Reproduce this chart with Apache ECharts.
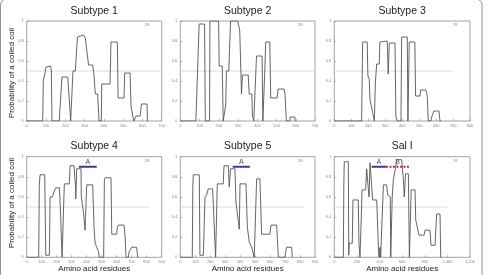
<!DOCTYPE html>
<html>
<head>
<meta charset="utf-8">
<script src="https://cdn.jsdelivr.net/npm/echarts@6/dist/echarts.min.js"></script>
<style>
  html, body { margin: 0; padding: 0; background: #fff; }
  #chart { width: 487px; height: 275px; }
</style>
</head>
<body>
<div id="chart"></div>
<script>
// panel titles and x ranges
const titles = ['Subtype 1', 'Subtype 2', 'Subtype 3', 'Subtype 4', 'Subtype 5', 'Sal I']
const xMax = [700, 700, 800, 900, 900, 1200]
const xStep = [100, 100, 100, 100, 100, 200]
const cutoff = 0.5
const cutoffEnd = [700, 700, 700, 820, 825, 1000]

// coiled coil probability profiles, [residue, probability]
const subtype1 = [[0,0],[83,0],[86,0.40],[93,0.46],[100,0.54],[104,0.55],[124,0.55],[128,0.5],[131,0],
  [169,0],[172,0.11],[178,0.11],[183,0.44],[213,0.44],[220,0.42],[228,0],
  [238,0],[240,0.5],[252,0.5],[263,0.84],[270,0.86],[294,0.86],[304,0.83],[315,0.65],[321,0.56],[342,0.56],[349,0.46],[356,0.27],[368,0.27],[375,0],
  [387,0],[389,0.37],[432,0.37],[437,0.79],[470,0.79],[474,0.23],[505,0.23],[508,0.48],[536,0.48],[541,0.15],[550,0.05],[556,0],
  [565,0],[567,0.05],[588,0.05],[595,0.17],[624,0.17],[626,0],[630,0]]
const subtype2 = [[0,0],[81,0],[90,0.52],[98,0.97],[126,0.97],[130,0],
  [152,0],[154,1.0],[199,1.0],[202,0.55],[218,0.55],[223,0],
  [232,0],[236,0.16],[240,0.5],[252,0.5],[261,1.0],[299,1.0],[309,0.9],[318,0.27],[323,0.46],[353,0.46],[358,0.27],[372,0.27],[375,0.05],[382,0],
  [392,0],[396,0.65],[425,0.65],[429,0],
  [434,0],[439,0.5],[444,0.79],[465,0.79],[470,0.23],[503,0.23],[508,0.32],[539,0.32],[544,0.28],[551,0],
  [569,0],[571,0.04],[595,0.04],[597,0],[600,0]]
const subtype3 = [[0,0],[161,0],[167,0.79],[194,0.79],[198,0.45],[206,0.42],[210,0.22],[220,0.2],[236,0],
  [240,0],[242,0.38],[250,0.57],[265,0.57],[269,0.79],[273,0.8],[312,0.8],[318,0.47],[324,0.78],[358,0.78],[363,0.05],[371,0],
  [393,0],[397,0.84],[430,0.84],[434,0],[438,0],[442,0.79],[475,0.79],[479,0.25],[505,0.25],[509,0.31],[540,0.31],[548,0.25],[554,0],
  [570,0],[572,0.03],[583,0.03],[587,0.1],[617,0.1],[623,0],[630,0]]
const subtype4 = [[0,0],[80,0],[84,0.72],[89,0.82],[120,0.82],[127,0.02],[151,0.02],[156,0.6],[171,0.6],[180,0.64],[189,0.64],[193,0.69],[218,0.69],[224,0.5],[236,0],
  [244,0],[248,0.6],[251,0.73],[284,0.73],[289,0.91],[316,0.91],[320,0.8],[325,0.72],[327,0.58],[330,0.7],[333,0.88],[362,0.88],[364,0.6],[378,0.45],[389,0.27],[396,0.27],[400,0.72],[440,0.72],[449,0.3],[456,0.14],[467,0.1],[478,0.06],[484,0],
  [513,0],[518,0.77],[522,0.79],[562,0.79],[567,0.23],[600,0.23],[604,0.3],[611,0.32],[649,0.32],[656,0.2],[662,0],
  [678,0],[682,0.05],[695,0.05],[700,0.1],[733,0.1],[740,0],[745,0]]
const subtype5 = [[0,0],[80,0],[84,0.72],[87,0.82],[127,0.82],[131,0.02],[154,0.02],[165,0.6],[176,0.62],[187,0.68],[216,0.68],[227,0.3],[236,0],
  [240,0],[247,0.73],[287,0.73],[292,0.91],[321,0.91],[327,0.7],[336,0.88],[365,0.88],[372,0.55],[388,0.35],[394,0.28],[399,0.73],[439,0.73],[448,0.3],[461,0.15],[477,0.1],[494,0],
  [506,0],[510,0.78],[532,0.78],[543,0.23],[599,0.23],[606,0.32],[644,0.32],[655,0],
  [699,0],[702,0.03],[710,0.1],[744,0.1],[748,0],[750,0]]
const salI = [[0,0],[80,0],[84,0.7],[88,0.95],[124,0.95],[128,0.02],[132,0.14],[159,0.14],[165,0.57],[212,0.57],[218,0.14],[227,0],
  [236,0],[240,0.45],[245,0.67],[277,0.67],[286,0.88],[300,0.88],[307,0.6],[316,0.94],[330,0.94],[339,0.57],[375,0.57],[390,0.1],[395,0],[400,0],[404,0.1],[410,0],
  [425,0],[430,0.6],[434,0.72],[463,0.72],[472,0.62],[495,0.6],[499,0],[507,0],[512,0.6],[522,0.77],[537,0.77],[543,0.9],[552,0.97],[596,0.97],[611,0.77],[619,0.6],[625,0.6],[630,0.83],[655,0.83],[664,0],
  [676,0],[680,0.67],[714,0.67],[720,0.37],[735,0.37],[749,0.22],[794,0.22],[802,0.27],[846,0.27],[855,0.12],[891,0.12],[905,0.43],[935,0.43],[941,0],[950,0]]
const profiles = [subtype1, subtype2, subtype3, subtype4, subtype5, salI]

// helix regions A (blue) and B (red dotted), [start, end] residues
const regionA4 = [347, 467]
const regionA5 = [350, 465]
const regionA6 = [330, 457]
const regionB6 = [457, 664]
const regionY = 0.9

const lefts = [26.7, 180.3, 334.3]
const widths = [135, 134.7, 135.7]
const tops = [21, 156.7]
const heights = [100, 100.6]

const chart = echarts.init(document.getElementById('chart'))

const grid = []
const xAxis = []
const yAxis = []
const series = []
const graphic = []

profiles.forEach((prof, i) => {
  const col = i % 3
  const row = Math.floor(i / 3)
  grid.push({
    left: lefts[col], top: tops[row], width: widths[col], height: heights[row],
    show: true, borderColor: '#8a8a8a', borderWidth: 0.8, backgroundColor: 'transparent'
  })
  xAxis.push({
    type: 'value', gridIndex: i, min: 0, max: xMax[i], interval: xStep[i],
    axisLine: { show: false },
    axisTick: { show: true, inside: true, length: 2, lineStyle: { color: '#888', width: 0.6 } },
    axisLabel: { fontSize: 4, color: '#888', margin: 3, fontFamily: 'Liberation Sans' },
    splitLine: { show: false }
  })
  yAxis.push({
    type: 'value', gridIndex: i, min: 0, max: 1, interval: 0.2,
    axisLine: { show: false },
    axisTick: { show: true, inside: true, length: 2, lineStyle: { color: '#888', width: 0.6 } },
    axisLabel: {
      fontSize: 4, color: '#888', margin: 3, fontFamily: 'Liberation Sans',
      formatter: v => (v === 0 || v === 1) ? String(v) : v.toFixed(1)
    },
    splitLine: { show: false }
  })
  // 0.5 cutoff line
  series.push({
    type: 'line', xAxisIndex: i, yAxisIndex: i, silent: true, symbol: 'none', animation: false,
    data: [[0, cutoff], [cutoffEnd[i], cutoff]],
    lineStyle: { color: '#d6d6d6', width: 0.8 }
  })
  series.push({
    type: 'line', xAxisIndex: i, yAxisIndex: i, symbol: 'none', animation: false,
    data: prof,
    lineStyle: { color: '#555', width: 0.9 }
  })
  graphic.push({
    type: 'text', x: lefts[col] + widths[col] / 2, y: row === 0 ? 11 : 146.5,
    style: { text: titles[i], fontSize: 10.5, fontFamily: 'Liberation Sans', fill: '#222', align: 'center', verticalAlign: 'middle' }
  })
  graphic.push({
    type: 'text', x: lefts[col] + widths[col] - 17, y: tops[row] + 2,
    style: { text: '28', fontSize: 4, fontFamily: 'Liberation Sans', fill: '#888', align: 'left', verticalAlign: 'top' }
  })
})

function addRegion (idx, range, color, dotted, name) {
  series.push({
    type: 'line', xAxisIndex: idx, yAxisIndex: idx, symbol: 'none', animation: false,
    data: [[range[0], regionY], [range[1], regionY]],
    lineStyle: { color: color, width: 1.8, type: dotted ? [2, 1.5] : 'solid' },
    z: 5
  })
  series.push({
    type: 'scatter', xAxisIndex: idx, yAxisIndex: idx, symbolSize: 0, animation: false,
    data: [[(range[0] + range[1]) / 2, regionY]],
    label: { show: true, position: 'top', distance: 1, formatter: name, fontSize: 7, color: '#222', fontFamily: 'Liberation Sans' }
  })
}
addRegion(3, regionA4, '#3a3a9c', false, 'A')
addRegion(4, regionA5, '#3a3a9c', false, 'A')
addRegion(5, regionA6, '#3a3a9c', false, 'A')
addRegion(5, regionB6, '#e0262a', true, 'B')

// axis titles
const yNameCenter = [73, 203]
for (let row = 0; row < 2; row++) {
  graphic.push({
    type: 'text', x: 12, y: yNameCenter[row], rotation: Math.PI / 2,
    style: { text: 'Probability of a coiled coil', fontSize: 8, fontFamily: 'Liberation Sans', fill: '#222', align: 'center', verticalAlign: 'middle' }
  })
}
for (let col = 0; col < 3; col++) {
  graphic.push({
    type: 'text', x: lefts[col] + widths[col] / 2, y: 269,
    style: { text: 'Amino acid residues', fontSize: 8, fontFamily: 'Liberation Sans', fill: '#222', align: 'center', verticalAlign: 'middle' }
  })
}
// figure frame
graphic.push({
  type: 'rect', shape: { x: 0.5, y: -1, width: 481.5, height: 290, r: 6 },
  style: { fill: 'none', stroke: '#777', lineWidth: 0.8 }, z: -1
})

chart.setOption({
  animation: false,
  grid: grid,
  xAxis: xAxis,
  yAxis: yAxis,
  series: series,
  graphic: graphic
})
</script>
</body>
</html>
